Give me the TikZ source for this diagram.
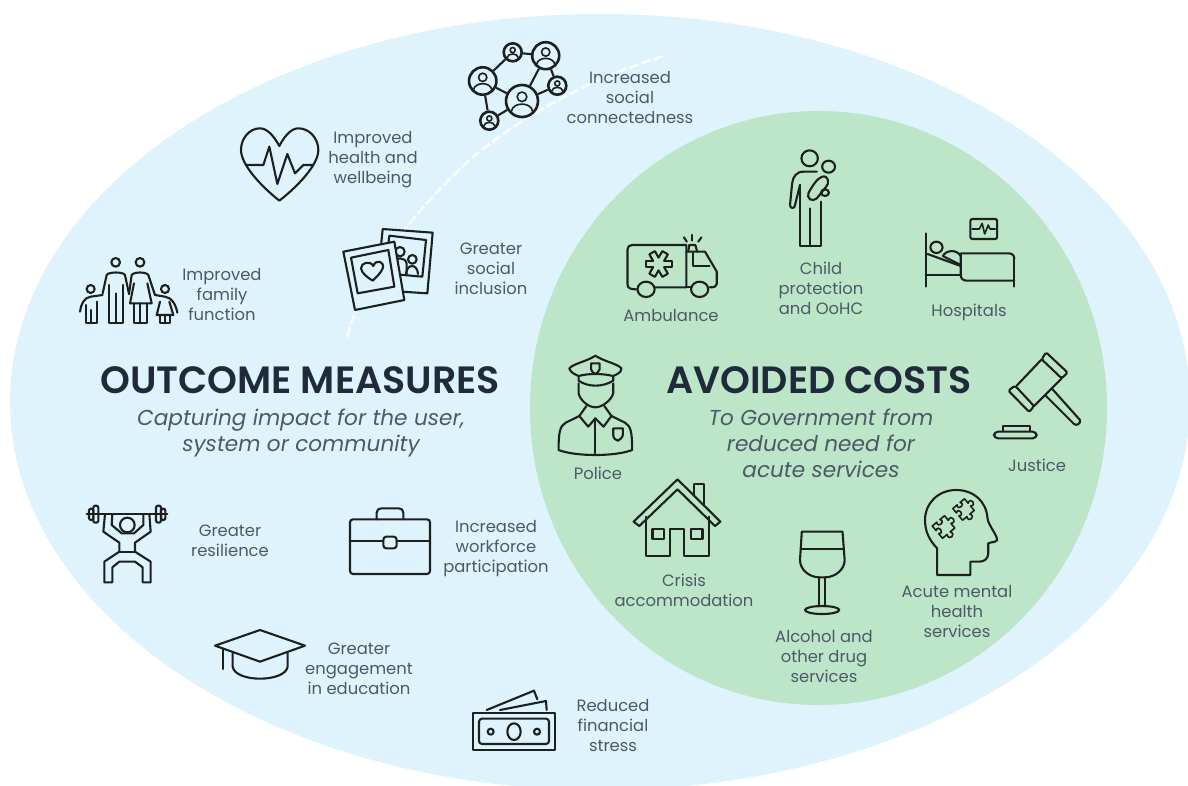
\documentclass[tikz,border=0pt]{standalone}
\usepackage{fontspec}
\setmainfont{Poppins}
\newfontfamily\headfont{Poppins SemiBold}
\definecolor{bluebg}{HTML}{DFF3FC}
\definecolor{greenbg}{HTML}{BDE5C8}
\definecolor{labelc}{HTML}{4C5966}
\definecolor{headc}{HTML}{1F2A3A}
\definecolor{iconc}{HTML}{1C211F}
\tikzset{
 zthree/.style 2 args={shift={(#1,#2)},x=.16667pt,y=-.16667pt},
 ztwo/.style 2 args={shift={(#1,#2)},x=.17857pt,y=-.16667pt},
 icon/.style={draw=iconc,line width=1.05pt,line join=round,line cap=round},
 thin icon/.style={draw=iconc,line width=.8pt,line join=round,line cap=round},
 lbl/.style={align=center,text=labelc,inner sep=0pt,font=\fontsize{8.2}{10}\selectfont},
 head/.style={text=headc,inner sep=0pt,font=\fontsize{19}{22}\selectfont\headfont},
 sub/.style={align=center,text=labelc,inner sep=0pt,font=\fontsize{10.8}{13}\selectfont\itshape},
 netnode/.style={circle,draw=iconc,line width=1.3pt,inner sep=0pt,minimum size=#1,fill=bluebg},
}
\newcommand{\persona}[3]{%
 \draw[thin icon] (#1,#2-.28*#3) circle ({.32*#3});
 \draw[thin icon] (#1-.7*#3,#2+.68*#3) .. controls (#1-.62*#3,#2+.05*#3) and (#1+.62*#3,#2+.05*#3) .. (#1+.7*#3,#2+.68*#3);}
\newcommand{\puzzlepiece}{(-1,-1) -- (-.25,-1) .. controls (-.75,-1.8) and (.75,-1.8) .. (.25,-1) -- (1,-1) -- (1,-.25) .. controls (1.8,-.75) and (1.8,.75) .. (1,.25) -- (1,1) -- (.25,1) .. controls (.75,.3) and (-.75,.3) .. (-.25,1) -- (-1,1) -- (-1,.25) .. controls (-.3,.75) and (-.3,-.75) .. (-1,-.25) -- cycle}
\begin{document}
\begin{tikzpicture}[x=.5pt,y=-.5pt]
\useasboundingbox (0,0) rectangle (1188,786);
\begin{scope}
\clip (0,0) rectangle (1188,786);
\fill[bluebg] (600,402) ellipse [x radius=590,y radius=388];
\draw[white,line width=1.3pt,opacity=.8,dash pattern=on 5pt off 1.5pt] (347,337) .. controls (365,270) and (420,205) .. (473,157) .. controls (530,110) and (600,75) .. (667,55);
\fill[greenbg] (818.5,408) ellipse [x radius=288.5,y radius=297];
\end{scope}

% ---------- texts
\node[head] (outcome) at (300,380) {OUTCOME MEASURES};
\node[sub] (outcomesub) at (301,433) {Capturing impact for the user,\\system or community};
\node[head] (avoided) at (819,380) {AVOIDED COSTS};
\node[sub] (avoidedsub) at (821,443.5) {To Government from\\reduced need for\\acute services};
\node[lbl] (l1) at (630,98) {Increased\\social\\connectedness};
\node[lbl] (l2) at (373,160) {Improved\\health and\\wellbeing};
\node[lbl] (l3) at (491,269) {Greater\\social\\inclusion};
\node[lbl] (l4) at (222,295) {Improved\\family\\function};
\node[lbl] (l5) at (230,541) {Greater\\resilience};
\node[lbl] (l6) at (496,549) {Increased\\workforce\\participation};
\node[lbl] (l7) at (359,669) {Greater\\engagement\\in education};
\node[lbl] (l8) at (613,725) {Reduced\\financial\\stress};
\node[lbl] (l9) at (671,316) {Ambulance};
\node[lbl] (l10) at (821,288) {Child\\protection\\and OoHC};
\node[lbl] (l11) at (969,312) {Hospitals};
\node[lbl] (l12) at (598,473) {Police};
\node[lbl] (l13) at (1037,465) {Justice};
\node[lbl] (l14) at (684,590) {Crisis\\accommodation};
\node[lbl] (l15) at (824,656) {Alcohol and\\other drug\\services};
\node[lbl] (l16) at (957,612) {Acute mental\\health\\services};

% ---------- network
\node[netnode=13.7pt] (na) at (482.7,81) {};
\node[netnode=9pt] (nb) at (512.7,52.3) {};
\node[netnode=13.5pt] (nc) at (545.7,55.7) {};
\node[netnode=9pt] (nd) at (557.3,85.7) {};
\node[netnode=16pt] (ne) at (522,101) {};
\node[netnode=9pt] (nf) at (489.3,120.7) {};
\foreach \p/\q in {na/nb,nb/nc,nc/nd,nc/ne,nd/ne,na/ne,na/nf,nf/ne}
  \draw[draw=iconc,line width=1.05pt] (\p) -- (\q);
\persona{482.7}{81}{13}
\persona{512.7}{52.3}{8}
\persona{545.7}{55.7}{13}
\persona{557.3}{85.7}{8}
\persona{522}{101}{15}
\persona{489.3}{120.7}{8}

% ---------- zoom 1 icons (3x)
\begin{scope}[zthree={60}{30}]
% heart
\draw[icon] (658,348) .. controls (640,315) and (620,295) .. (600,295) .. controls (568,295) and (543,325) .. (543,360) .. controls (543,405) and (605,470) .. (658,512) .. controls (712,470) and (775,405) .. (775,360) .. controls (775,325) and (748,295) .. (715,295) .. controls (695,295) and (675,315) .. (658,348) -- cycle;
\draw[icon] (557,405) -- (610,405) -- (628,350) -- (652,462) -- (682,372) -- (705,430) -- (730,405) -- (760,405);
% family
\draw[icon] (167,697) circle (13);
\draw[icon] (240,697) circle (13);
\draw[icon] (92,777) circle (12);
\draw[icon] (315,777) circle (12);
\draw[icon] (128,790) -- (140,735) .. controls (145,725) and (190,725) .. (195,735) -- (207,792);
\draw[icon] (148,765) -- (148,880) -- (188,880) -- (188,765);
\draw[icon] (168,790) -- (168,880);
\draw[icon] (207,792) -- (215,735) .. controls (222,725) and (258,725) .. (265,735) -- (285,795);
\draw[icon] (222,760) -- (210,820) -- (275,820) -- (262,760);
\draw[icon] (222,820) -- (222,880) -- (260,880) -- (260,820);
\draw[icon] (241,820) -- (241,880);
\draw[icon] (128,795) -- (92,800) .. controls (72,802) and (62,825) .. (60,845);
\draw[icon] (78,825) -- (78,880) -- (110,880) -- (110,815);
\draw[icon] (94,840) -- (94,880);
\draw[icon] (285,795) -- (315,800) .. controls (335,802) and (348,825) .. (352,848);
\draw[icon] (300,815) -- (290,855) -- (340,855) -- (328,815);
\draw[icon] (300,855) -- (300,880) -- (330,880) -- (330,855);
\draw[icon] (315,855) -- (315,880);
% photographs
\draw[icon,fill=bluebg] (968,597) -- (1118,608) -- (1102,790) -- (950,780) -- cycle;
\draw[icon] (988,617) -- (1098,630) -- (1087,740) -- (975,730) -- cycle;
\draw[icon] (1020,665) circle (14);
\draw[icon] (1057,688) circle (13);
\draw[icon] (1000,700) .. controls (1005,680) and (1035,680) .. (1040,700) -- (1040,735);
\draw[icon] (1038,732) .. controls (1040,700) and (1072,700) .. (1074,732);
\draw[icon,fill=bluebg] (850,665) -- (1003,635) -- (1033,810) -- (885,840) -- cycle;
\draw[icon] (873,683) -- (985,660) -- (1003,770) -- (893,790) -- cycle;
\draw[icon] (940,708) .. controls (948,685) and (975,695) .. (968,715) .. controls (962,730) and (950,740) .. (938,752) .. controls (922,742) and (905,730) .. (903,715) .. controls (903,698) and (930,690) .. (940,708) -- cycle;
\end{scope}

% ---------- zoom 2 icons (x 2.8, y 3)
\begin{scope}[ztwo={540}{130}]
% ambulance
\draw[icon] (272,478) .. controls (252,478) and (245,475) .. (245,462) -- (245,358) .. controls (245,350) and (250,345) .. (258,345) -- (410,345) -- (410,472) -- (322,472);
\draw[icon] (410,472) -- (425,472);
\draw[icon] (410,365) -- (462,365) -- (495,425) -- (495,462) .. controls (495,470) and (488,472) .. (475,472);
\draw[icon] (428,368) -- (428,408) -- (475,408);
\draw[icon] (297,478) ellipse [x radius=24,y radius=23];
\draw[icon] (447,478) ellipse [x radius=24,y radius=23];
\draw[icon] (415,365) -- (418,345) -- (435,345) -- (440,365);
\draw[icon] (403,322) -- (411,335);
\draw[icon] (426,315) -- (426,332);
\draw[icon] (452,322) -- (443,335);
% child protection
\draw[icon] (755,85) ellipse [x radius=23,y radius=24];
\draw[icon] (808,110) ellipse [x radius=18,y radius=18];
\draw[icon] (775,125) -- (738,125) .. controls (718,125) and (708,140) .. (706,160) -- (700,225) .. controls (700,237) and (714,237) .. (714,225) -- (728,165);
\draw[icon] (728,165) -- (728,348) -- (787,348) -- (787,215);
\draw[icon] (755,235) -- (755,348);
\draw[icon] (790,140) .. controls (808,135) and (812,160) .. (800,172) -- (775,205) .. controls (762,218) and (745,205) .. (752,188) .. controls (762,170) and (775,145) .. (790,140) -- cycle;
\draw[icon] (798,188) ellipse [x radius=11,y radius=10];
% hospital
\draw[icon] (1080,310) -- (1080,470);
\draw[icon] (1328,385) -- (1328,470);
\draw[icon] (1080,435) -- (1178,435);
\draw[icon] (1178,372) -- (1178,435) .. controls (1178,446) and (1185,452) .. (1195,452) -- (1328,452);
\draw[icon] (1178,370) -- (1312,370) .. controls (1322,370) and (1328,376) .. (1328,386);
\draw[icon] (1110,352) ellipse [x radius=17,y radius=17];
\draw[icon] (1085,372) -- (1178,408);
\draw[icon] (1128,378) .. controls (1135,362) and (1165,355) .. (1178,378);
\draw[icon] (1128,378) -- (1178,405);
\draw[icon,rounded corners=1pt] (1205,267) rectangle (1280,327);
\draw[thin icon] (1210,297) -- (1230,297) -- (1238,280) -- (1245,312) -- (1255,285) -- (1260,297) -- (1275,297);
\end{scope}
% star of life
\begin{scope}[shift={(658.6,264)}]
\foreach \t in {0,60,...,300}
 \draw[icon,rotate=\t] (5.6,3.2) -- (13,3.2) -- (13,-3.2) -- (5.6,-3.2);
\end{scope}

% ---------- zoom 3 icons (x 2.8, y 3)
\begin{scope}[ztwo={540}{340}]
% police
\draw[icon] (155,47) .. controls (130,65) and (95,70) .. (82,85) .. controls (85,98) and (98,103) .. (108,108) .. controls (135,100) and (175,100) .. (205,108) .. controls (215,103) and (228,98) .. (228,85) .. controls (215,70) and (180,65) .. (155,47) -- cycle;
\draw[icon] (108,108) -- (108,122) .. controls (135,142) and (175,142) .. (205,122) -- (205,108);
\draw[icon] (143,70) -- (167,70) -- (167,88) .. controls (165,96) and (158,100) .. (155,102) .. controls (150,100) and (145,96) .. (143,88) -- cycle;
\draw[icon] (108,130) -- (108,160) .. controls (112,180) and (135,202) .. (155,202) .. controls (175,202) and (200,180) .. (205,160) -- (205,130);
\draw[icon] (130,198) -- (110,228) -- (135,260) -- (155,235) -- (178,260) -- (200,228) -- (180,198);
\draw[icon] (110,228) -- (72,248) .. controls (55,258) and (52,280) .. (52,330) .. controls (100,350) and (210,350) .. (258,330) .. controls (258,280) and (255,258) .. (238,248) -- (200,228);
\draw[icon] (155,235) -- (155,340);
\draw[icon] (205,265) -- (232,265) -- (232,285) .. controls (230,295) and (222,300) .. (218,302) .. controls (212,300) and (205,295) .. (205,285) -- cycle;
% house
\draw[icon] (262,545) -- (385,418) -- (505,545) -- (490,558) -- (385,448) -- (278,558) -- cycle;
\draw[icon] (430,465) -- (430,433) -- (458,433) -- (458,497);
\draw[icon] (297,530) -- (297,648) -- (365,648) -- (365,568) -- (403,568) -- (403,648) -- (473,648) -- (473,530);
\draw[icon] (315,568) rectangle (347,598);
\draw[icon] (423,568) rectangle (455,598);
% wine
\draw[icon] (733,575) -- (847,575) -- (853,660) .. controls (853,690) and (825,712) .. (798,712) -- (782,712) .. controls (755,712) and (728,690) .. (728,660) -- cycle;
\draw[icon] (731,627) -- (850,627);
\draw[icon] (782,712) -- (782,800);
\draw[icon] (798,712) -- (798,800);
\draw[icon] (790,810) ellipse [x radius=48,y radius=12];
% head
\draw[icon] (1112,705) -- (1112,625) .. controls (1090,600) and (1078,575) .. (1078,540) .. controls (1078,490) and (1115,450) .. (1165,450) .. controls (1215,450) and (1250,485) .. (1253,535) .. controls (1255,555) and (1280,585) .. (1280,600) .. controls (1275,608) and (1265,605) .. (1255,610) -- (1255,640) .. controls (1255,655) and (1245,665) .. (1230,665) -- (1205,665) -- (1205,705) -- cycle;
\end{scope}
% puzzle pieces
\begin{scope}[shift={(943.5,527)},rotate=40,x=4pt,y=4pt]
\draw[thin icon] \puzzlepiece;
\end{scope}
\begin{scope}[shift={(963.5,509.5)},rotate=40,x=3.8pt,y=3.8pt]
\draw[thin icon] \puzzlepiece;
\end{scope}

% ---------- justice (zoom 7, 3x)
\begin{scope}[zthree={1000}{200}]
\draw[icon,rounded corners=.8pt] (138,457) -- (125,478) -- (185,535) -- (203,518) -- cycle;
\draw[icon,rounded corners=.8pt] (45,557) -- (25,572) -- (88,636) -- (102,618) -- cycle;
\draw[icon] (125,478) -- (50,557);
\draw[icon] (185,535) -- (102,618);
\draw[icon] (155,565) -- (240,660) .. controls (242,672) and (230,678) .. (222,672) -- (135,585);
\draw[icon] (8,692) -- (8,678) -- (90,678) -- (90,692);
\draw[icon,rounded corners=2pt] (-18,695) rectangle (110,715);
\end{scope}

% ---------- zoom 4 icons (3x)
\begin{scope}[zthree={60}{490}]
% lifter
\draw[icon] (80,72) -- (322,72);
\draw[icon,rounded corners=1pt] (100,47) rectangle (115,98);
\draw[icon,rounded corners=1pt] (87,56) rectangle (100,90);
\draw[icon,rounded corners=1pt] (288,47) rectangle (303,98);
\draw[icon,rounded corners=1pt] (303,56) rectangle (316,90);
\draw[icon] (135,72) -- (130,125) -- (178,158) -- (178,185) -- (133,215) -- (133,277) -- (157,277) -- (157,232) -- (178,215) -- (225,215) -- (248,232) -- (248,277) -- (272,277) -- (272,215) -- (225,185) -- (225,158) -- (272,125) -- (268,72);
\draw[icon] (157,72) -- (155,105) -- (185,130) -- (222,130) -- (250,105) -- (250,72);
\draw[icon] (202,105) circle (22);
\draw[icon] (178,186) -- (225,186);
% briefcase
\draw[icon,rounded corners=1.5pt] (870,88) rectangle (1110,252);
\draw[icon] (870,152) -- (970,152);
\draw[icon] (1010,152) -- (1110,152);
\draw[icon,rounded corners=1.5pt] (970,140) rectangle (1010,175);
\draw[icon] (950,88) -- (950,68) .. controls (950,60) and (956,55) .. (964,55) -- (1016,55) .. controls (1024,55) and (1030,60) .. (1030,68) -- (1030,88);
% grad cap
\draw[icon] (465,467) -- (600,420) -- (735,467) -- (600,515) -- cycle;
\draw[icon] (490,477) -- (490,537);
\draw[icon] (518,490) -- (518,530) .. controls (525,578) and (675,578) .. (683,530) -- (683,490);
\end{scope}

% ---------- money (zoom 6, 3x)
\begin{scope}[zthree={440}{620}]
\draw[icon] (98,278) rectangle (345,390);
\draw[icon,rounded corners=1.5pt] (117,296) rectangle (327,372);
\draw[icon] (222,335) ellipse [x radius=20,y radius=25];
\draw[icon] (152,335) circle (9);
\draw[icon] (291,335) circle (9);
\draw[icon] (140,270) -- (282,212) -- (292,238);
\draw[icon] (180,270) -- (318,243) -- (320,270);
\end{scope}
\end{tikzpicture}
\end{document}
